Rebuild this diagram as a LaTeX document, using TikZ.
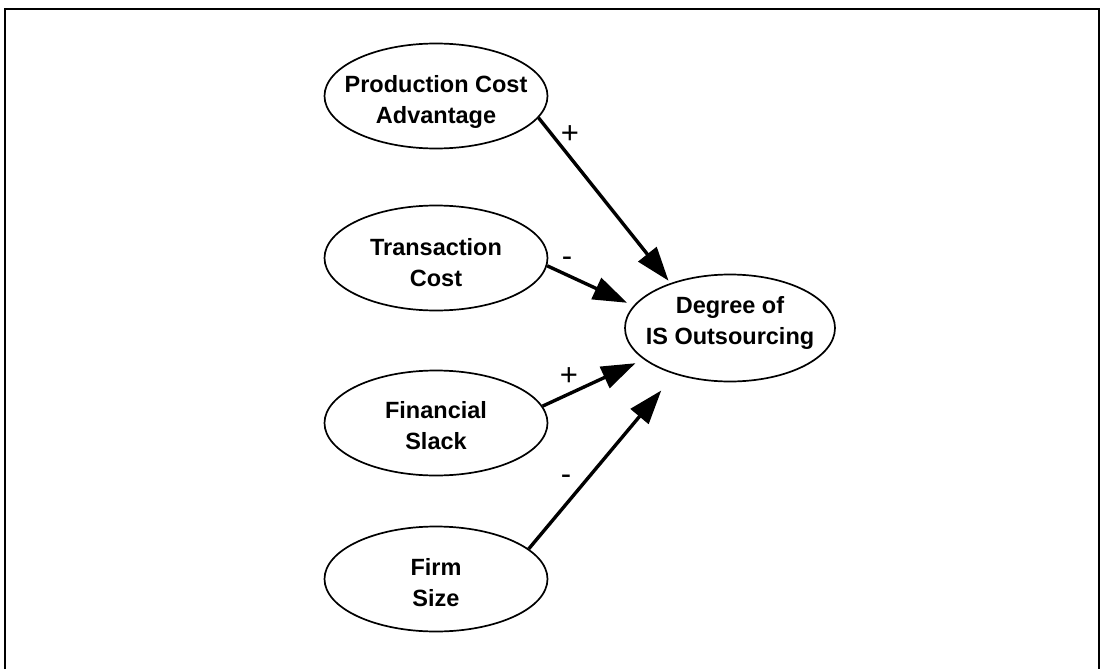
\documentclass[tikz,border=0pt]{standalone}
\usepackage{fontspec}
\setmainfont{Liberation Sans}
\usetikzlibrary{shapes.geometric,arrows.meta}
% text block whose first baseline sits #1 above the node centre
\newcommand{\ctxt}[2][0pt]{\raisebox{#1}[0pt][0pt]{\makebox[0pt]{\begin{tabular}[t]{@{}c@{}}#2\end{tabular}}}}
\tikzset{
  construct/.style={ellipse, draw, line width=1.7pt, inner sep=0pt,
    minimum width=223pt, minimum height=105pt,
    font=\fontsize{23.5}{31}\selectfont\bfseries},
  effect/.style={line width=3.4pt, -{Triangle[length=34pt,width=23pt]}},
  sign/.style={inner sep=0pt, font=\fontsize{31}{31}\selectfont},
}
\begin{document}
\begin{tikzpicture}[x=1pt,y=-1pt]
\useasboundingbox (0,0) rectangle (1102,669);
\draw[line width=1.8pt] (5,669) -- (5,9) -- (1099,9) -- (1099,669);
\node[construct] (pca) at (436,96) {\ctxt[4pt]{Production Cost\\Advantage}};
\node[construct] (tc) at (436,258) {\ctxt[2.3pt]{Transaction\\Cost}};
\node[construct] (fs) at (436,423) {\ctxt[4.5pt]{Financial\\Slack}};
\node[construct] (fsz) at (436,579) {\ctxt[3.5pt]{Firm\\Size}};
\node[construct, minimum width=210pt, minimum height=107pt] (deg) at (730,328) {\ctxt[15pt]{Degree of\\IS Outsourcing}};
\draw[effect, shorten >=3pt] (pca.-12) -- (deg.143.9);
\draw[effect, shorten >=7pt] (tc.-4) -- (deg.167.4);
\draw[effect, shorten >=9pt] (fs.9.5) -- (deg.-160.3);
\draw[effect, shorten >=21pt] (fsz.18.6) -- (deg.-140.7);
\node[sign] (s1) at (570,135) {+};
\node[sign] (s2) at (567,262) {-};
\node[sign] (s3) at (569,377) {+};
\node[sign] (s4) at (566,480) {-};
\end{tikzpicture}
\end{document}
